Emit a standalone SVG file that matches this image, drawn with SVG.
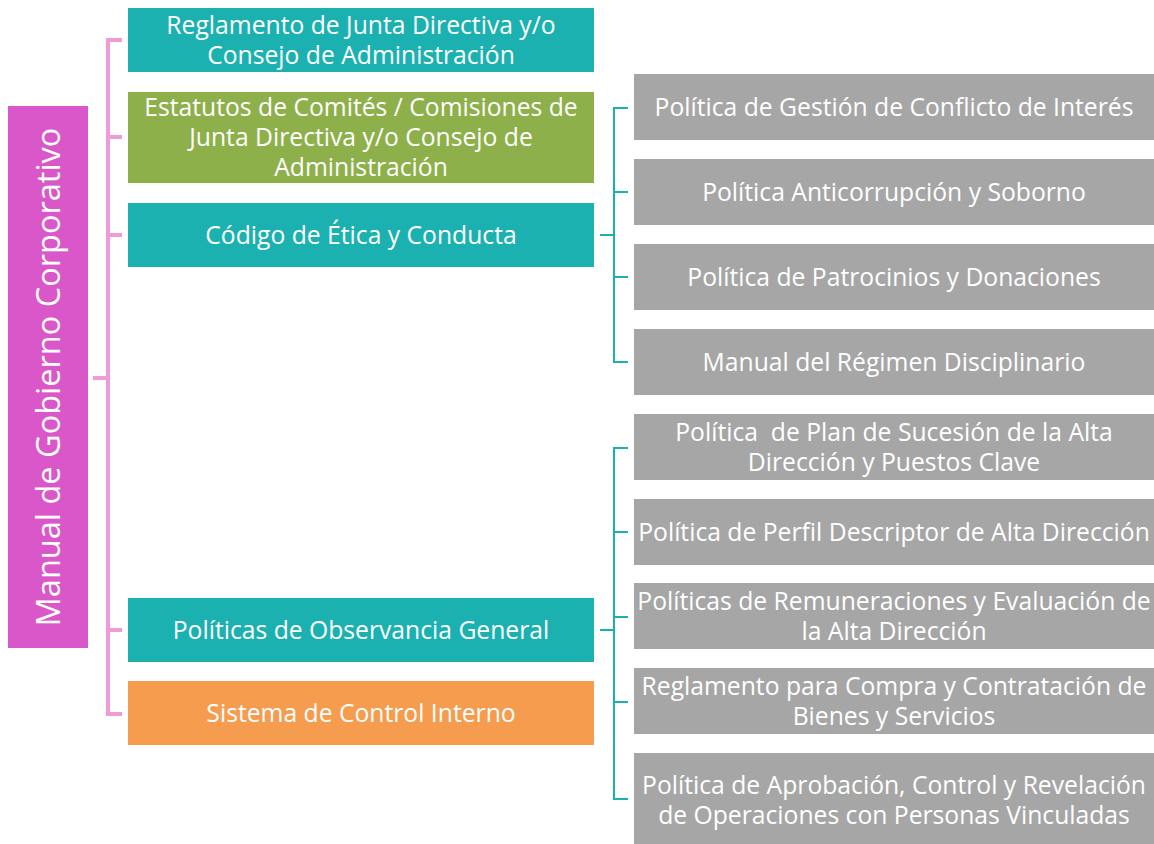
<svg xmlns="http://www.w3.org/2000/svg" width="1154" height="844" viewBox="0 0 1154 844">
<style>
.t{font-family:"Open Sans","Liberation Sans",sans-serif;font-size:24.7px;fill:#fff;text-anchor:middle}
.big{font-size:32.5px}
.teal{fill:#1BB1B1}
.green{fill:#8DB04B}
.orange{fill:#F59C4F}
.mag{fill:#D957C8}
.gray{fill:#A6A6A6}
.pk{stroke:#F09BD8;stroke-width:4;fill:none}
.tl{stroke:#1BB1B1;stroke-width:2;fill:none}
</style>
<rect width="1154" height="844" fill="#fff"/>
<g id="connectors">
<path class="pk" d="M122 40H108V714H122M108 137H122M108 235H122M108 630H122M93 378H108"/>
<path class="tl" d="M600 235H614M628 108H614V362H628M614 192H628M614 277H628"/>
<path class="tl" d="M600 630H614M628 448H614V799H628M614 532H628M614 617H628M614 702H628"/>
</g>
<g id="root"><rect class="mag" x="8" y="106" width="80" height="542"/><text class="t big" transform="translate(60 377) rotate(-90)">Manual de Gobierno Corporativo</text></g>
<g id="n1"><rect class="teal" x="128" y="8" width="466" height="64"/><text class="t" x="361" y="34">Reglamento de Junta Directiva y/o</text><text class="t" x="361" y="64">Consejo de Administración</text></g>
<g id="n2"><rect class="green" x="128" y="92" width="466" height="91"/><text class="t" x="361" y="116">Estatutos de Comités / Comisiones de</text><text class="t" x="361" y="146">Junta Directiva y/o Consejo de</text><text class="t" x="361" y="176">Administración</text></g>
<g id="n3"><rect class="teal" x="128" y="203" width="466" height="64"/><text class="t" x="361" y="244">Código de Ética y Conducta</text></g>
<g id="n4"><rect class="teal" x="128" y="598" width="466" height="64"/><text class="t" x="361" y="639">Políticas de Observancia General</text></g>
<g id="n5"><rect class="orange" x="128" y="681" width="466" height="64"/><text class="t" x="361" y="722">Sistema de Control Interno</text></g>
<g id="a"><rect class="gray" x="634" y="74" width="520" height="66"/><text class="t" x="894" y="116">Política de Gestión de Conflicto de Interés</text></g>
<g id="b"><rect class="gray" x="634" y="159" width="520" height="66"/><text class="t" x="894" y="201">Política Anticorrupción y Soborno</text></g>
<g id="c"><rect class="gray" x="634" y="244" width="520" height="66"/><text class="t" x="894" y="286">Política de Patrocinios y Donaciones</text></g>
<g id="d"><rect class="gray" x="634" y="329" width="520" height="66"/><text class="t" x="894" y="371">Manual del Régimen Disciplinario</text></g>
<g id="e"><rect class="gray" x="634" y="414" width="520" height="66"/><text class="t" x="894" y="441" xml:space="preserve">Política  de Plan de Sucesión de la Alta</text><text class="t" x="894" y="471">Dirección y Puestos Clave</text></g>
<g id="f"><rect class="gray" x="634" y="499" width="520" height="66"/><text class="t" x="894" y="541">Política de Perfil Descriptor de Alta Dirección</text></g>
<g id="g"><rect class="gray" x="634" y="583" width="520" height="66"/><text class="t" x="894" y="610">Políticas de Remuneraciones y Evaluación de</text><text class="t" x="894" y="640">la Alta Dirección</text></g>
<g id="h"><rect class="gray" x="634" y="668" width="520" height="66"/><text class="t" x="894" y="695">Reglamento para Compra y Contratación de</text><text class="t" x="894" y="725">Bienes y Servicios</text></g>
<g id="i"><rect class="gray" x="634" y="753" width="520" height="91"/><text class="t" x="894" y="794">Política de Aprobación, Control y Revelación</text><text class="t" x="894" y="824">de Operaciones con Personas Vinculadas</text></g>
</svg>
